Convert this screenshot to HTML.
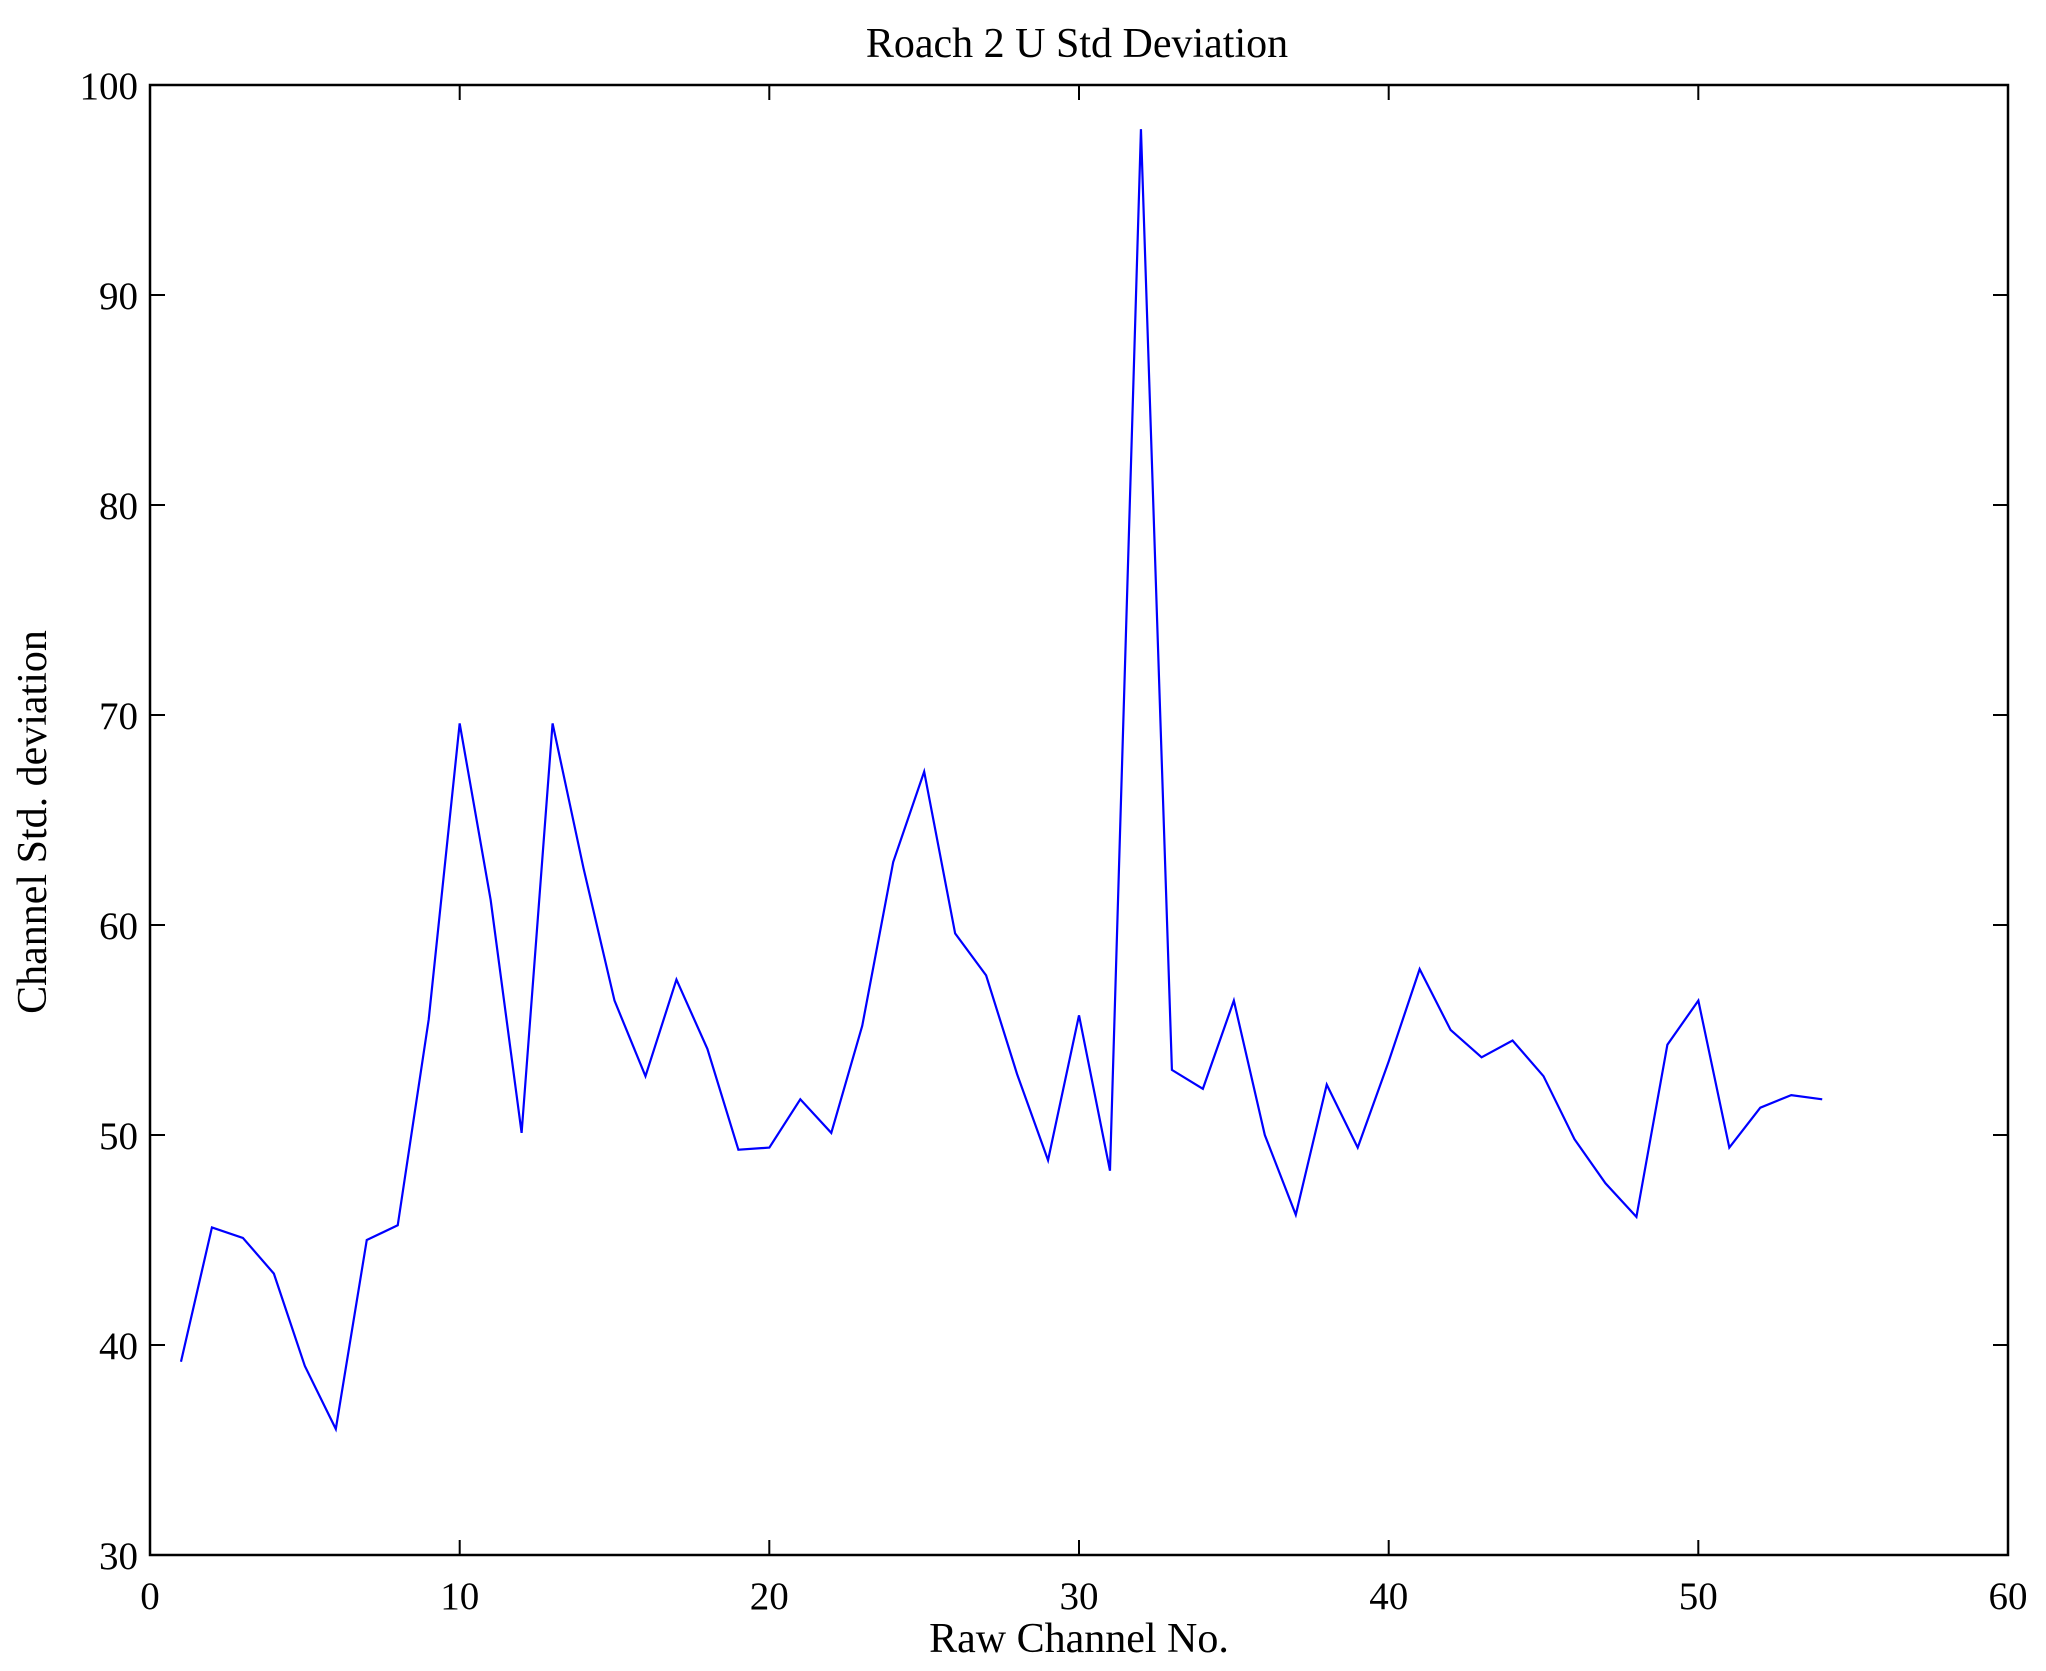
<!DOCTYPE html>
<html><head><style>body{margin:0;background:#fff}svg{display:block}text{font-family:"Liberation Serif",serif;fill:#000}</style></head>
<body>
<svg width="2046" height="1671" viewBox="0 0 2046 1671" xmlns="http://www.w3.org/2000/svg">
<rect width="2046" height="1671" fill="#fff"/>
<g transform="translate(150,1555) scale(30.967,-21) translate(0,-30)">
<polyline fill="none" stroke="#0000ff" stroke-width="2.2" vector-effect="non-scaling-stroke" stroke-linejoin="miter" points="1,39.2 2,45.6 3,45.1 4,43.4 5,39.0 6,36.0 7,45.0 8,45.7 9,55.5 10,69.6 11,61.2 12,50.1 13,69.6 14,62.7 15,56.4 16,52.8 17,57.4 18,54.1 19,49.3 20,49.4 21,51.7 22,50.1 23,55.2 24,63.0 25,67.3 26,59.6 27,57.6 28,52.9 29,48.8 30,55.7 31,48.3 32,97.9 33,53.1 34,52.2 35,56.4 36,50.0 37,46.2 38,52.4 39,49.4 40,53.5 41,57.9 42,55.0 43,53.7 44,54.5 45,52.8 46,49.8 47,47.7 48,46.1 49,54.3 50,56.4 51,49.4 52,51.3 53,51.9 54,51.7"/>
</g>
<rect x="150" y="85" width="1858" height="1470" fill="none" stroke="#000" stroke-width="2.5"/>
<g stroke="#000" stroke-width="2">
<path d="M459.7,1555v-15M769.3,1555v-15M1079,1555v-15M1388.7,1555v-15M1698.3,1555v-15M459.7,85v15M769.3,85v15M1079,85v15M1388.7,85v15M1698.3,85v15"/>
<path d="M150,1345h15M150,1135h15M150,925h15M150,715h15M150,505h15M150,295h15M2008,1345h-15M2008,1135h-15M2008,925h-15M2008,715h-15M2008,505h-15M2008,295h-15"/>
</g>
<g font-size="39" text-anchor="middle">
<text x="150" y="1609">0</text><text x="459.7" y="1609">10</text><text x="769.3" y="1609">20</text><text x="1079" y="1609">30</text><text x="1388.7" y="1609">40</text><text x="1698.3" y="1609">50</text><text x="2008" y="1609">60</text>
</g>
<g font-size="39" text-anchor="end">
<text x="138" y="1569">30</text><text x="138" y="1359">40</text><text x="138" y="1149">50</text><text x="138" y="939">60</text><text x="138" y="729">70</text><text x="138" y="519">80</text><text x="138" y="309">90</text><text x="138" y="99">100</text>
</g>
<text x="1077" y="57" font-size="42" text-anchor="middle">Roach 2 U Std Deviation</text>
<text x="1079" y="1652" font-size="42" text-anchor="middle">Raw Channel No.</text>
<text transform="translate(46,822) rotate(-90)" font-size="42" text-anchor="middle">Channel Std. deviation</text>
</svg>
</body></html>
